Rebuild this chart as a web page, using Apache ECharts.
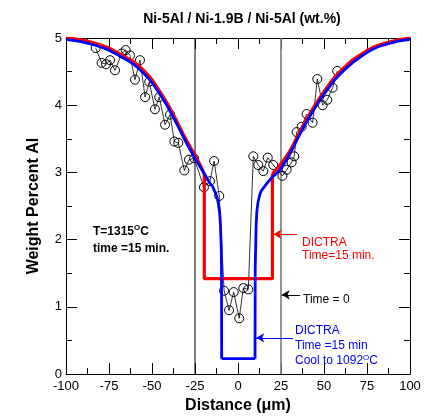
<!DOCTYPE html>
<html>
<head>
<meta charset="utf-8">
<script src="https://cdn.jsdelivr.net/npm/echarts@6/dist/echarts.min.js"></script>
<style>
html,body{margin:0;padding:0;background:#fff;}
#chart{width:431px;height:419px;}
</style>
</head>
<body>
<div id="chart"></div>
<script>
// Measured data (distance in micrometres, wt.% Al)
const distance = [-82.7,-79.3,-76.7,-74.4,-71.5,-67.6,-65.3,-62.8,-59.9,-57.0,-54.0,-51.6,-48.3,-45.8,-42.4,-39.5,-37.0,-34.7,-31.2,-28.5,-25.5,-19.8,-16.3,-13.9,-10.9,-8.1,-5.2,-2.5,0.7,3.1,6.0,8.9,11.8,14.7,17.3,20.5,25.8,28.3,31.2,32.7,34.1,37.0,39.9,43.4,46.1,49.2,51.9,55.0,57.7];
const wtAl = [4.85,4.63,4.61,4.67,4.52,4.77,4.82,4.74,4.38,4.67,4.12,4.35,3.94,4.12,3.71,3.86,3.46,3.44,3.03,3.19,3.21,2.78,2.87,3.17,2.65,1.24,0.95,1.22,0.83,1.28,1.26,3.24,3.11,3.02,3.22,3.11,2.95,3.04,3.15,3.24,3.60,3.68,3.87,3.74,4.39,4.00,4.08,4.26,4.51];

// DICTRA time = 15 min (red): outer diffusion curves and central step
const redLeftX = [-100,-84,-68.6,-55,-45.3,-37.6,-29.8,-24,-19.6];
const redLeftY = [5.0,4.93,4.76,4.52,4.2,3.86,3.47,3.21,2.98];
const redStepX = [-19.6,-19.6,20,20];
const redStepY = [2.98,1.42,1.42,2.98];
const redRightX = [20,24.4,30.2,36,43.8,51.6,59.3,72.9,86.4,100];
const redRightY = [2.98,3.11,3.32,3.61,3.96,4.26,4.5,4.78,4.93,5.0];

// DICTRA time = 15 min, cooled to 1092 C (blue)
const blueLeftX = [-100,-84,-68.6,-55,-45.3,-37.6,-29.8,-24,-18.2,-16.3,-14.4,-11.5,-10.1,-9.6,-9.5];
const blueLeftY = [4.98,4.9,4.73,4.48,4.16,3.82,3.43,3.17,2.92,2.84,2.77,2.55,2.14,1.56,0.23];
const blueBottomX = [-9.5,9.9];
const blueBottomY = [0.23,0.23];
const blueRightX = [9.9,10.0,10.3,10.9,12.8,15.7,19.6,24.4,30.2,36,43.8,51.6,59.3,72.9,86.4,100];
const blueRightY = [0.23,1.5,1.9,2.39,2.68,2.8,2.92,3.04,3.28,3.57,3.92,4.22,4.46,4.75,4.91,4.98];

// Reference lines (interfaces at time = 0)
const refLineX = [-25, 25];
const refLineColor = ['#000000', '#7a7a7a'];

// Annotation arrows [fromX, toX, y]
const arrowFromX = [34.3, 36.0, 32.0];
const arrowToX = [20.6, 25.4, 10.6];
const arrowY = [2.08, 1.18, 0.54];
const arrowColor = ['#ff0000', '#000000', '#0000ff'];

const xTicks = [-100,-75,-50,-25,0,25,50,75,100];
const yTicks = [0,1,2,3,4,5];

const zip = (xs, ys) => xs.map((x, i) => [x, ys[i]]);

const chart = echarts.init(document.getElementById('chart'), null, {renderer: 'canvas'});
const font = 'Liberation Sans, Arial, Helvetica, sans-serif';

const baseAxis = {
  axisLine: {show: true, onZero: false, lineStyle: {color: '#000', width: 1}},
  axisTick: {show: true, inside: true, length: 11, lineStyle: {color: '#000', width: 1}},
  minorTick: {show: true, splitNumber: 2, length: 6, lineStyle: {color: '#000', width: 1}},
  splitLine: {show: false},
  minorSplitLine: {show: false}
};

const series = [];
refLineX.forEach((x, i) => {
  series.push({
    type: 'line', data: [[x, 0], [x, 5]], symbol: 'none', silent: true, z: 1,
    lineStyle: {color: refLineColor[i], width: i === 0 ? 1 : 1.6}
  });
});
series.push({
  type: 'line', name: 'data', data: zip(distance, wtAl), z: 3,
  symbol: 'circle', symbolSize: 9,
  itemStyle: {color: 'rgba(255,255,255,0)', borderColor: '#000', borderWidth: 1},
  lineStyle: {color: '#000', width: 0.8},
  markLine: {
    silent: true, symbol: ['none', 'arrow'], symbolSize: [7, 8],
    label: {show: false},
    data: arrowFromX.map((fx, i) => [
      {coord: [fx, arrowY[i]], lineStyle: {color: arrowColor[i], width: 1, type: 'solid'}},
      {coord: [arrowToX[i], arrowY[i]]}
    ])
  }
});
[
  [zip(redLeftX, redLeftY), true],
  [zip(redStepX, redStepY), false],
  [zip(redRightX, redRightY), true]
].forEach(([d, sm]) => {
  series.push({type: 'line', data: d, symbol: 'none', smooth: sm ? 0.5 : false, z: 4,
    lineStyle: {color: '#ff0000', width: 3.2}});
});
[
  [zip(blueLeftX, blueLeftY), true],
  [zip(blueBottomX, blueBottomY), false],
  [zip(blueRightX, blueRightY), true]
].forEach(([d, sm]) => {
  series.push({type: 'line', data: d, symbol: 'none', smooth: sm ? 0.5 : false, z: 5,
    lineStyle: {color: '#0000ff', width: 2.8}});
});

const option = {
  animation: false,
  backgroundColor: '#fff',
  title: {
    text: 'Ni-5Al / Ni-1.9B / Ni-5Al (wt.%)',
    left: 237, top: 7, textAlign: 'center',
    textStyle: {fontFamily: font, fontSize: 14, fontWeight: 'bold', color: '#000'}
  },
  grid: {left: 66, right: 21, top: 38, bottom: 39, containLabel: false},
  xAxis: [
    Object.assign({}, baseAxis, {
      type: 'value', position: 'bottom', min: -100, max: 100, interval: 25,
      name: 'Distance (μm)', nameLocation: 'middle', nameGap: 22,
      nameTextStyle: {fontFamily: font, fontSize: 16, fontWeight: 'bold', color: '#000'},
      axisLabel: {fontFamily: font, fontSize: 13, color: '#000', margin: 6,
        formatter: v => xTicks.includes(v) ? String(v) : ''}
    }),
    Object.assign({}, baseAxis, {
      type: 'value', position: 'top', min: -100, max: 100, interval: 25,
      axisLabel: {show: false}
    })
  ],
  yAxis: [
    Object.assign({}, baseAxis, {
      type: 'value', position: 'left', min: 0, max: 5, interval: 1,
      name: 'Weight Percent Al', nameLocation: 'middle', nameGap: 24, nameRotate: 90,
      nameTextStyle: {fontFamily: font, fontSize: 16, fontWeight: 'bold', color: '#000'},
      axisLabel: {fontFamily: font, fontSize: 13, color: '#000', margin: 4,
        formatter: v => yTicks.includes(v) ? String(v) : ''}
    }),
    Object.assign({}, baseAxis, {
      type: 'value', position: 'right', min: 0, max: 5, interval: 1,
      axisLabel: {show: false}
    })
  ],
  series: series,
  graphic: [
    {
      type: 'text', left: 93, top: 224,
      style: {
        text: '{a|T=1315}{s|O}{a|C}\n{a|time =15 min.}',
        rich: {
          a: {fontFamily: font, fontSize: 12, fontWeight: 'bold', fill: '#000', lineHeight: 17},
          s: {fontFamily: font, fontSize: 8, fontWeight: 'bold', fill: '#000', lineHeight: 17, padding: [0, 0, 7, 0]}
        }
      }
    },
    {
      type: 'text', left: 302, top: 236,
      style: {
        text: 'DICTRA\nTime=15 min.',
        fontFamily: font, fontSize: 12, fill: '#ff0000', lineHeight: 13
      }
    },
    {
      type: 'text', left: 303, top: 294,
      style: {text: 'Time = 0', fontFamily: font, fontSize: 12, fill: '#000'}
    },
    {
      type: 'text', left: 295, top: 325,
      style: {
        text: '{b|DICTRA}\n{b|Time =15 min}\n{b|Cool to 1092}{s|O}{b|C}',
        rich: {
          b: {fontFamily: font, fontSize: 12, fill: '#0000ff', lineHeight: 15},
          s: {fontFamily: font, fontSize: 8, fill: '#0000ff', lineHeight: 15, padding: [0, 0, 7, 0]}
        }
      }
    }
  ]
};
chart.setOption(option);
</script>
</body>
</html>
